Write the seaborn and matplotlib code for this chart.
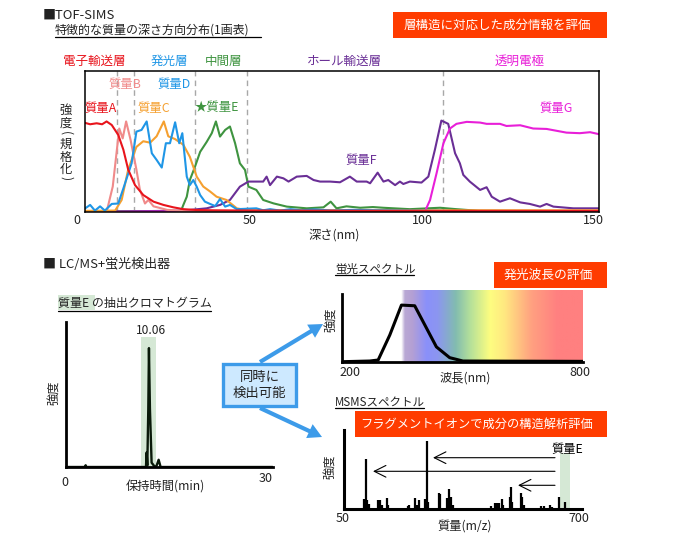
import numpy as np
import pandas as pd
import matplotlib
matplotlib.use("Agg")
import matplotlib.pyplot as plt
from matplotlib.colors import LinearSegmentedColormap
from matplotlib.patches import Rectangle, FancyArrowPatch
import seaborn as sns

# ---- TOF-SIMS depth profiles: depth (nm), normalised intensity
a_d = [0,1.5,3.4,5,6.3,7.8,9.7,11.2,12.6,14.6,17,20,22.9,25.8,28.7,32.6,37.5,50,100,150]
a_i = [.63,.62,.627,.62,.64,.615,.545,.44,.30,.19,.12,.073,.05,.033,.02,.014,.012,.01,.008,.008]
b_d = [0,6.3,8.1,10,11,12,13.3,15,16,17.5,18.5,20,24,30,150]
b_i = [0,0,.18,.59,.52,.64,.51,.3,.16,.06,.085,.04,.015,.005,.003]
c_d = [0,8.8,10.7,12.6,15,17,19,20.9,23,24.3,26.3,28.7,30.6,32.6,34.5,36.5,38.4,41.3,44.3,47.2,100,150]
c_i = [.008,.01,.085,.30,.46,.5,.49,.535,.64,.535,.515,.475,.39,.25,.18,.145,.108,.085,.026,.012,.012,.012]
d_d = [0,1.5,2.9,4.4,5.8,7.8,9.7,11.2,13.6,15,16.5,18,19.5,20.9,22.4,23.6,24.8,26.3,27.5,28.4,29.7,30.6,31.6,32.6,33.6,35,36.5,38,39.4,40.9,42.3,44.3,50,52,54,57,60,63,67,72,78,85,95,110,150]
d_i = [.025,.05,.01,.04,.01,.057,.06,.167,.344,.568,.58,.64,.415,.368,.314,.486,.486,.634,.486,.557,.25,.19,.226,.179,.12,.073,.057,.042,.092,.038,.05,.02,.026,.012,.02,.01,.02,.012,.018,.01,.015,.012,.01,.006,.006]
e_d = [0,15,28,28.7,29.7,30.6,32.1,33.6,35.5,37,38.2,39.4,40.9,42.3,43.8,45.2,46.7,47.7,50,52,55,58.9,64.7,69.6,71.7,73.4,76.3,80.3,84,87,94.8,103.6,108.4,115,150]
e_i = [.005,.006,.006,.05,.108,.226,.32,.425,.495,.557,.64,.533,.58,.604,.486,.344,.297,.179,.156,.085,.061,.038,.026,.033,.073,.026,.04,.03,.035,.03,.02,.03,.02,.008,.006]
f_d = [0,28.7,35.5,39.4,42.3,45.2,47.7,50,52,53,54,56,57.9,59.4,61.8,64.7,66.7,68.6,71.5,74.4,77.3,79.3,82.2,83.2,85.4,87.1,88.5,90.5,91.9,92.9,94.8,98.2,100.2,102.1,104,106,108,109.4,110.4,112.3,115.3,117.2,118.7,121.1,124,127,129.8,132.8,134.7,136.7,142.5,150]
f_i = [0,.01,.026,.05,.085,.179,.215,.215,.215,.25,.19,.25,.238,.215,.25,.255,.226,.215,.215,.21,.25,.215,.215,.203,.278,.215,.226,.19,.215,.198,.215,.208,.25,.439,.646,.623,.415,.344,.262,.215,.156,.175,.108,.073,.097,.068,.057,.038,.057,.038,.026,.026]
g_d = [0,30,99.2,100.7,102.6,104.6,106.5,108.4,111.4,115.3,117.2,121.1,123,127,130.8,134.7,140.5,144.4,147.4,150]
g_i = [0,.004,.004,.085,.274,.486,.59,.623,.637,.632,.623,.623,.608,.613,.59,.587,.561,.557,.564,.55]
layer_bounds = [9.3, 14.3, 32.1, 47.3, 104.5]

# ---- chromatogram
chrom_t = [0,2.3,2.41,2.5,9.7,9.78,9.86,9.98,10.06,10.18,10.38,10.78,10.99,11.23,11.47,25]
chrom_i = [0,0,.012,0,0,.1,.01,.4,.82,.4,.03,0,.01,.05,0,0]

# ---- fluorescence spectrum
fl_w = [200,269,290,319,348,381,435,468,501,800]
fl_i = [0,.01,.025,.396,.84,.83,.22,.06,.01,.005]

# ---- MS/MS spectrum
ms_mz = [106.4,110,113.7,119,145,149,154,167,172,225,229,245,249,257,271,277,281,310,314,333,338,342,348,451,463,468,475,481,486,504,507,511,534,538,542,590,597,613,620,637,654]
ms_i = [.119,.631,.11,.059,.11,.11,.047,.131,.047,.038,.047,.131,.047,.11,.119,.86,.089,.195,.186,.131,.25,.153,.047,.03,.076,.068,.068,.123,.047,.153,.271,.089,.195,.153,.047,.034,.034,.047,.025,.144,.08]

RED="#e8141c"; PINK="#f08a8a"; ORANGE="#f5a030"; BLUE="#1f96e6"
GREEN="#3f9440"; PURPLE="#6a2f96"; MAG="#e81fd8"
BANNER="#ff3c00"; BAND="#d5e8d5"

sns.set_theme(style="white")
plt.rcParams["font.family"] = ["Noto Sans CJK JP", "DejaVu Sans"]
W, H = 677, 542
fig = plt.figure(figsize=(W/100, H/100), dpi=100, facecolor="white")

def ax_px(l, t, r, b):
    return fig.add_axes([l/W, 1-b/H, (r-l)/W, (b-t)/H])

def clean(ax):
    ax.set_xlabel(""); ax.set_ylabel("")
    ax.set_xticks([]); ax.set_yticks([])
    ax.patch.set_alpha(0)

# main depth profile
ax = ax_px(85, 70.5, 599, 212)
for x in layer_bounds:
    ax.axvline(x, color="#a8a8a8", lw=1, ls=(0, (4, 3)), zorder=1)
profiles = [(e_d,e_i,GREEN),(f_d,f_i,PURPLE),(g_d,g_i,MAG),(b_d,b_i,PINK),(c_d,c_i,ORANGE),(d_d,d_i,BLUE),(a_d,a_i,RED)]
for xs, ys, col in profiles:
    sns.lineplot(x=xs, y=ys, color=col, lw=1.5, ax=ax, errorbar=None, estimator=None, sort=False, solid_joinstyle="round")
ax.set_xlim(0, 150); ax.set_ylim(0, 1)
clean(ax)
for s in ax.spines.values():
    s.set_color("black"); s.set_linewidth(1.1)

# chromatogram
ax2 = ax_px(65.7, 322, 273, 467)
ax2.axvspan(9.15, 10.97, ymin=0, ymax=130/145, color=BAND, lw=0, zorder=0)
sns.lineplot(x=chrom_t, y=chrom_i, color="#0a1a0a", lw=1.7, ax=ax2, errorbar=None, estimator=None, sort=False)
ax2.set_xlim(0, 25.05); ax2.set_ylim(0, 1)
clean(ax2)
sns.despine(ax=ax2)
for k in ("left", "bottom"):
    ax2.spines[k].set_color("black"); ax2.spines[k].set_linewidth(2)

# fluorescence
ax3 = ax_px(342, 290, 583, 361.7)
stops = [(0,"#ffffff"),(.02,"#b9a8d4"),(.06,"#b4a0d4"),(.14,"#8a90fa"),(.20,"#8c96f0"),(.30,"#82bcb0"),(.38,"#b4e09a"),(.49,"#fdfd80"),(.57,"#ffe880"),(.72,"#ffa080"),(.86,"#ff8080"),(1,"#ff8080")]
cmap = LinearSegmentedColormap.from_list("vis", stops)
ax3.imshow(np.linspace(0, 1, 256)[None, :], cmap=cmap, extent=[347, 800, 0, 1.064], aspect="auto", zorder=0)
sns.lineplot(x=fl_w, y=fl_i, color="black", lw=2.2, ax=ax3, errorbar=None, estimator=None, sort=False)
ax3.set_xlim(200, 800); ax3.set_ylim(0, 1.064)
clean(ax3)
sns.despine(ax=ax3)
ax3.spines["left"].set_bounds(0, 1)
for k in ("left", "bottom"):
    ax3.spines[k].set_color("black"); ax3.spines[k].set_linewidth(2)

# MS/MS
ax4 = ax_px(343.7, 430, 581.7, 508.7)
ax4.axvspan(640, 667, ymin=0, ymax=55.7/78.7, color=BAND, lw=0, zorder=0)
ax4.vlines(ms_mz, 0, ms_i, color="black", lw=1.6)
ax4.set_xlim(50, 700); ax4.set_ylim(0, 1)
clean(ax4)
sns.despine(ax=ax4)
for k in ("left", "bottom"):
    ax4.spines[k].set_color("black"); ax4.spines[k].set_linewidth(2.2)

# pixel-space overlay for annotations
ov = fig.add_axes([0, 0, 1, 1], zorder=10)
ov.set_xlim(0, W); ov.set_ylim(H, 0); ov.axis("off"); ov.patch.set_alpha(0)

def T(x, y, s, size=8.6, color="#222222", ha="left", **kw):
    return ov.text(x, y, s, fontsize=size, color=color, ha=ha, va="center", **kw)

def banner(l, t, r, b, s, cx, size=9.0):
    ov.add_patch(Rectangle((l, t), r-l, b-t, fc=BANNER, ec="none"))
    T(cx, (t+b)/2, s, size=size, color="white", ha="center")

def uline(l, r, y):
    ov.plot([l, r], [y, y], color="black", lw=0.9)

T(43, 15, "■TOF-SIMS", size=9.4)
T(55, 30, "特徴的な質量の深さ方向分布(1画表)", size=8.65)
uline(55, 261, 37)
banner(393, 12, 607, 38, "層構造に対応した成分情報を評価", 497)

for x, s, c in [(94,"電子輸送層",RED),(169,"発光層",BLUE),(224,"中間層",GREEN),(344,"ホール輸送層",PURPLE),(520,"透明電極",MAG)]:
    T(x, 61, s, size=9, color=c, ha="center")
for x, y, s, c in [(84,108,"質量A",RED),(108,84,"質量B",PINK),(137,108,"質量C",ORANGE),(157,84,"質量D",BLUE),(195,107,"★質量E",GREEN),(345,160,"質量F",PURPLE),(539,108,"質量G",MAG)]:
    T(x, y, s, size=8.9, color=c)
for y, s in [(110,"強"),(123.5,"度"),(144,"規"),(157,"格"),(169.5,"化")]:
    T(66, y, s, size=8.8, ha="center")
T(66, 133.5, "(", size=8.8, ha="center", rotation=-90)
T(66, 178.5, ")", size=8.8, ha="center", rotation=-90)
for x, s in [(77,"0"),(250,"50"),(422,"100"),(593,"150")]:
    T(x, 221, s, size=9, ha="center")
T(334, 235, "深さ(nm)", size=8.8, ha="center")

T(43, 264, "■ LC/MS+蛍光検出器", size=9.4)
ov.add_patch(Rectangle((58, 295), 37, 15, fc=BAND, ec="none", zorder=0))
T(58, 304, "質量E の抽出クロマトグラム", size=8.65)
uline(58, 211, 310.7)
T(150.7, 331, "10.06", size=8.6, ha="center")
T(65, 482, "0", size=9, ha="center")
T(265.7, 478, "30", size=9, ha="center")
T(165, 487, "保持時間(min)", size=8.8, ha="center")
T(54, 393, "強度", size=8.8, ha="center", rotation=90, rotation_mode="anchor")

# callout with arrows
for p0, p1 in [((260,362),(323,324)), ((260,408),(322,437))]:
    ov.add_patch(FancyArrowPatch(p0, p1, arrowstyle="simple,head_width=11,head_length=10,tail_width=3", color="#3d9be9", lw=0, shrinkA=0, shrinkB=0))
ov.add_patch(Rectangle((223, 364), 73, 42, fc="#cde9ff", ec="#3d9be9", lw=2.4, zorder=3))
T(259.5, 385, "同時に\n検出可能", size=9.6, ha="center", multialignment="center", zorder=4, linespacing=1.15)

T(335, 269, "蛍光スペクトル", size=8.3)
uline(335, 414, 275)
banner(494, 262, 607, 288, "発光波長の評価", 548, size=9.2)
T(350, 373, "200", size=9, ha="center")
T(580, 373, "800", size=9, ha="center")
T(465, 378, "波長(nm)", size=8.8, ha="center")
T(331, 320, "強度", size=8.8, ha="center", rotation=90, rotation_mode="anchor")

T(335, 402, "MSMSスペクトル", size=8.3)
uline(335, 424, 408)
banner(355, 411, 607, 437, "フラグメントイオンで成分の構造解析評価", 477, size=8.8)
T(567, 449, "質量E", size=8.8, ha="center", color="black")
for x1, y in [(433,457.7),(373,471.3),(518,485.3)]:
    ov.annotate("", xy=(x1, y), xytext=(555, y), arrowprops=dict(arrowstyle="->,head_length=0.7,head_width=0.35", color="black", lw=0.8, shrinkA=0, shrinkB=0))
T(343, 519, "50", size=9, ha="center")
T(579, 519, "700", size=9, ha="center")
T(465, 526, "質量(m/z)", size=8.8, ha="center")
T(330, 467, "強度", size=8.8, ha="center", rotation=90, rotation_mode="anchor")

fig.savefig("out.png", dpi=100)
